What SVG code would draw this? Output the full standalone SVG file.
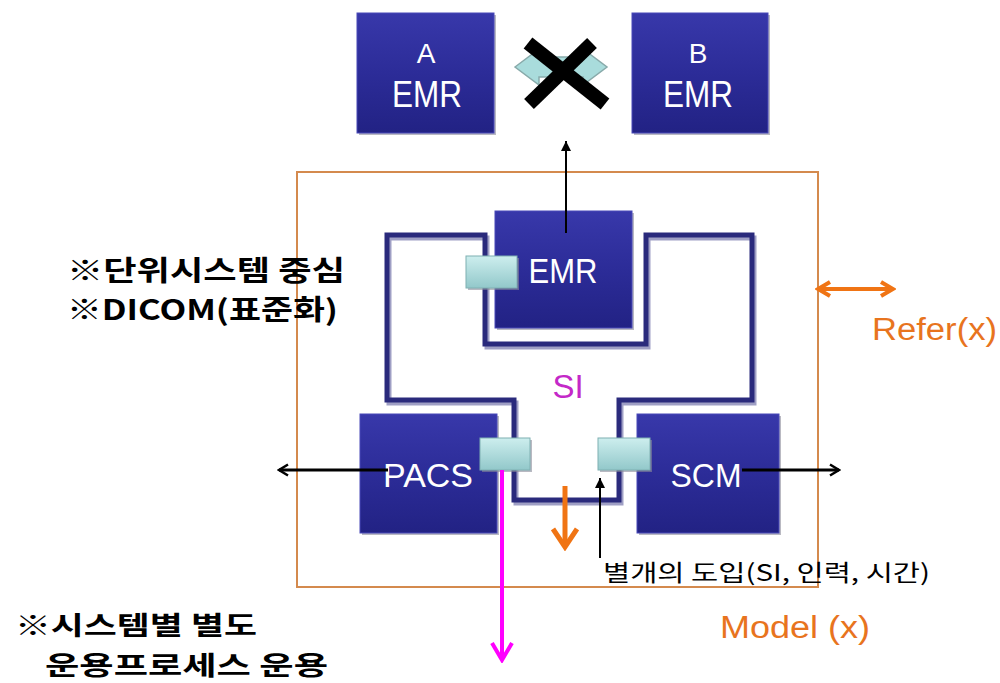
<svg xmlns="http://www.w3.org/2000/svg" width="1000" height="683" viewBox="0 0 1000 683">
<defs>
<linearGradient id="navy" x1="0" y1="0" x2="0" y2="1">
<stop offset="0" stop-color="#3838aa"/>
<stop offset="0.5" stop-color="#2c2c98"/>
<stop offset="1" stop-color="#222284"/>
</linearGradient>
<linearGradient id="aqua" x1="0" y1="0" x2="0" y2="1">
<stop offset="0" stop-color="#cdeeee"/>
<stop offset="1" stop-color="#92c8ca"/>
</linearGradient>
<marker id="openBlk" viewBox="0 0 14 14" refX="12" refY="7" markerWidth="14" markerHeight="14" markerUnits="userSpaceOnUse" orient="auto-start-reverse">
<path d="M3,1.5 L12,7 L3,12.5" fill="none" stroke="#000" stroke-width="2.5"/>
</marker>
<marker id="triBlk" viewBox="0 0 10 10" refX="10" refY="5" markerWidth="10" markerHeight="10" markerUnits="userSpaceOnUse" orient="auto">
<path d="M0,0 L10,5 L0,10 z" fill="#000"/>
</marker>
<marker id="openMag" viewBox="0 0 24 24" refX="21" refY="12" markerWidth="24" markerHeight="24" markerUnits="userSpaceOnUse" orient="auto">
<path d="M4,2 L21,12 L4,22" fill="none" stroke="#ff00ff" stroke-width="4"/>
</marker>
<marker id="openOrg" viewBox="0 0 26 28" refX="22" refY="14" markerWidth="26" markerHeight="28" markerUnits="userSpaceOnUse" orient="auto">
<path d="M4,2 L22,14 L4,26" fill="none" stroke="#f07414" stroke-width="5"/>
</marker>
<marker id="openOrgS" viewBox="0 0 18 18" refX="15" refY="9" markerWidth="18" markerHeight="18" markerUnits="userSpaceOnUse" orient="auto-start-reverse">
<path d="M3,2 L15,9 L3,16" fill="none" stroke="#f07414" stroke-width="4"/>
</marker>
</defs>
<style>
.box{fill:url(#navy);stroke:#4848b8;stroke-width:1}
.shadow{fill:#8a8a9a;opacity:0.6}
.port{fill:url(#aqua);stroke:#7fb0b2;stroke-width:1}
.lbl{font-family:"Liberation Sans",Arial,sans-serif;fill:#fff;text-anchor:middle}
.kr{font-family:"Noto Sans CJK KR","Noto Sans",sans-serif;font-weight:bold;fill:#000}
.org{font-family:"Liberation Sans",Arial,sans-serif;fill:#e8741e}
.frame{fill:none;stroke:#2a2a7c;stroke-width:5;stroke-linejoin:miter}
</style>
<rect x="0" y="0" width="1000" height="683" fill="#fff"/>

<g id="scope">
<rect x="297" y="172" width="521" height="415" fill="none" stroke="#d48a4e" stroke-width="2"/>
</g>

<g id="si-frame">
<path d="M387,235 L387,400 L514,400 L514,500 L619,500 L619,400 L752,400 L752,235 L646,235 L646,344 L485,344 L485,235 Z" class="frame" stroke="#888" transform="translate(2,3)" opacity="0.45"/>
<path d="M387,235 L387,400 L514,400 L514,500 L619,500 L619,400 L752,400 L752,235 L646,235 L646,344 L485,344 L485,235 Z" class="frame"/>
<text x="568" y="398" font-family="Liberation Sans,Arial,sans-serif" font-size="33" fill="#c428c8" text-anchor="middle">SI</text>
</g>

<g id="a-emr">
<rect x="359" y="15" width="137" height="120" class="shadow"/>
<rect x="357" y="13" width="137" height="120" class="box"/>
<text x="426" y="63" class="lbl" font-size="28">A</text>
<text x="427" y="107" class="lbl" font-size="36" textLength="70" lengthAdjust="spacingAndGlyphs">EMR</text>
</g>

<g id="b-emr">
<rect x="634" y="15" width="136" height="120" class="shadow"/>
<rect x="632" y="13" width="136" height="120" class="box"/>
<text x="698" y="63" class="lbl" font-size="28">B</text>
<text x="698" y="107" class="lbl" font-size="36" textLength="70" lengthAdjust="spacingAndGlyphs">EMR</text>
</g>

<g id="no-link">
<polygon points="515,67 539,49 539,57 583,57 583,49 607,67 583,85 583,77 539,77 539,85" fill="#a9dcdc" stroke="#8aa" stroke-width="1.5"/>
<line x1="528" y1="43" x2="605" y2="104" stroke="#000" stroke-width="14"/>
<line x1="592" y1="43" x2="529" y2="104" stroke="#000" stroke-width="14"/>
</g>

<g id="emr">
<rect x="497" y="213" width="137" height="117" class="shadow"/>
<rect x="495" y="211" width="137" height="117" class="box"/>
<text x="563" y="283" class="lbl" font-size="35" textLength="69" lengthAdjust="spacingAndGlyphs">EMR</text>
<rect x="468" y="258" width="51" height="32" class="shadow"/>
<rect x="466" y="256" width="51" height="32" class="port"/>
</g>

<g id="pacs">
<rect x="362" y="416" width="137" height="119" class="shadow"/>
<rect x="360" y="414" width="137" height="119" class="box"/>
<text x="428" y="487" class="lbl" font-size="34" textLength="90" lengthAdjust="spacingAndGlyphs">PACS</text>
<rect x="482" y="440" width="50" height="32" class="shadow"/>
<rect x="480" y="438" width="50" height="32" class="port"/>
</g>

<g id="scm">
<rect x="639" y="416" width="142" height="119" class="shadow"/>
<rect x="637" y="414" width="142" height="119" class="box"/>
<text x="706" y="487" class="lbl" font-size="34" textLength="71" lengthAdjust="spacingAndGlyphs">SCM</text>
<rect x="600" y="440" width="52" height="32" class="shadow"/>
<rect x="598" y="438" width="52" height="32" class="port"/>
</g>

<g id="connectors">
<line x1="566" y1="233" x2="566" y2="141" stroke="#000" stroke-width="2" marker-end="url(#triBlk)"/>
<line x1="388" y1="470" x2="279" y2="470" stroke="#000" stroke-width="3" marker-end="url(#openBlk)"/>
<line x1="742" y1="470" x2="839" y2="470" stroke="#000" stroke-width="3" marker-end="url(#openBlk)"/>
<line x1="502" y1="470" x2="502" y2="660" stroke="#ff00ff" stroke-width="4" marker-end="url(#openMag)"/>
<line x1="565" y1="486" x2="565" y2="547" stroke="#f07414" stroke-width="5" marker-end="url(#openOrg)"/>
<line x1="600" y1="558" x2="600" y2="478" stroke="#000" stroke-width="2" marker-end="url(#triBlk)"/>
<line x1="818" y1="289" x2="893" y2="289" stroke="#f07414" stroke-width="4" marker-start="url(#openOrgS)" marker-end="url(#openOrgS)"/>
</g>

<g id="notes">
<text x="67" y="281" class="kr" font-size="28" textLength="278" lengthAdjust="spacingAndGlyphs">※단위시스템 중심</text>
<text x="67" y="320" class="kr" font-size="28" textLength="271" lengthAdjust="spacingAndGlyphs">※DICOM(표준화)</text>
<text x="15" y="635" class="kr" font-size="26" textLength="242" lengthAdjust="spacingAndGlyphs">※시스템별 별도</text>
<text x="45" y="675" class="kr" font-size="26" textLength="283" lengthAdjust="spacingAndGlyphs">운용프로세스 운용</text>
<text x="603" y="581" font-family="Noto Sans CJK KR,Noto Sans,sans-serif" font-size="23" fill="#000" textLength="327" lengthAdjust="spacingAndGlyphs">별개의 도입(SI, 인력, 시간)</text>
<text x="720" y="638" class="org" font-size="31" textLength="150" lengthAdjust="spacingAndGlyphs">Model (x)</text>
<text x="872" y="340" class="org" font-size="31" textLength="125" lengthAdjust="spacingAndGlyphs">Refer(x)</text>
</g>
</svg>
